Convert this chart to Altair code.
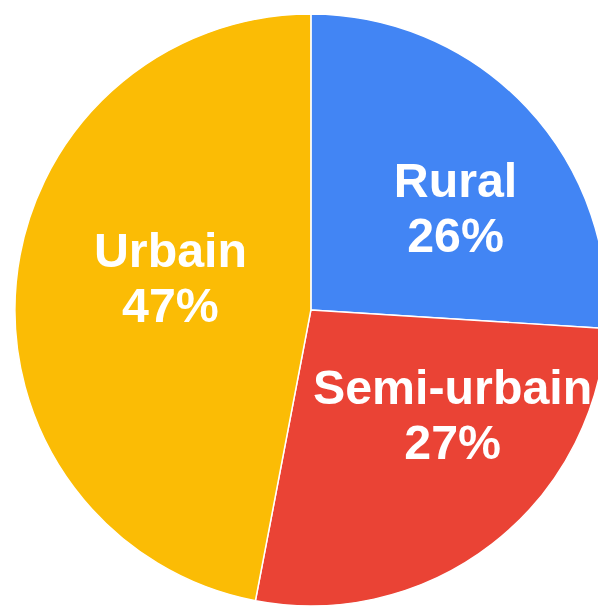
import altair as alt
import pandas as pd

categories = ["Rural", "Semi-urbain", "Urbain"]
values = [26, 27, 47]
colors = ["#4285F4", "#EA4335", "#FBBC05"]

df = pd.DataFrame({"category": categories, "value": values, "order": [0, 1, 2]})

CX, CY, R = 307, 302, 300

base = alt.Chart(df).encode(
    theta=alt.Theta("value:Q", stack=True),
    order=alt.Order("order:Q"),
    x=alt.value(CX),
    y=alt.value(CY),
)

pie = base.mark_arc(outerRadius=R, stroke="white", strokeWidth=1.5).encode(
    color=alt.Color("category:N", scale=alt.Scale(domain=categories, range=colors), legend=None)
)

def label(cat, r, dx, dy):
    return base.mark_text(
        radius=r, dx=dx, dy=dy, font="Liberation Sans", fontWeight="bold", fontSize=49,
        color="white", lineBreak="\n", lineHeight=56, align="center", baseline="middle",
    ).transform_calculate(
        lbl="datum.category + '\\n' + datum.value + '%'"
    ).encode(text="lbl:N", opacity=alt.condition(alt.datum.category == cat, alt.value(1), alt.value(0)))

chart = alt.layer(
    pie,
    label("Rural", 175, 19, -10),
    label("Semi-urbain", 174, 37, -57),
    label("Urbain", 148, 5, -45),
).properties(
    width=598, height=601, padding=0, autosize=alt.AutoSizeParams(type="none")
).configure_view(stroke=None)

chart.save("out.html", embed_options={"renderer": "svg", "actions": False})
